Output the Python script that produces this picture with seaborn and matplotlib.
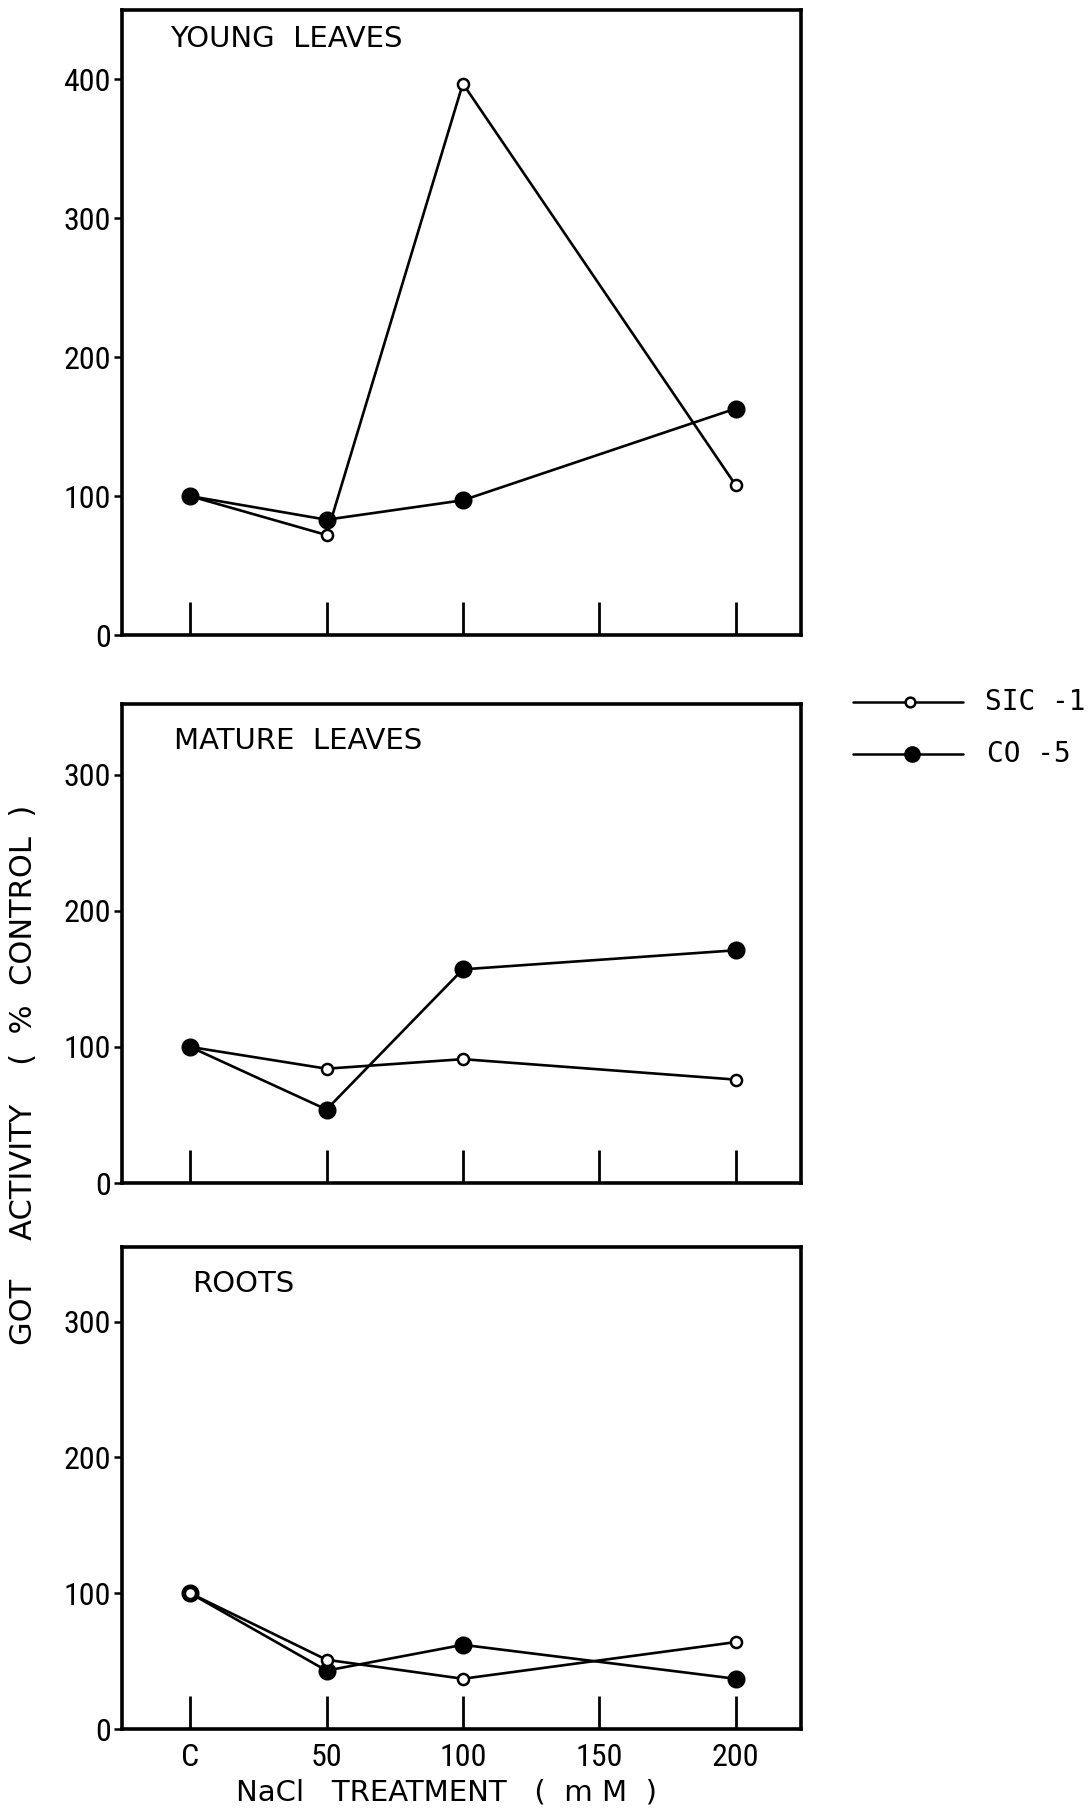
import matplotlib
matplotlib.use("Agg")
import matplotlib.pyplot as plt
import seaborn as sns

# NaCl treatment levels (mM); 0 stands for the control "C"
nacl = [0, 50, 100, 200]
tick_pos = [0, 50, 100, 150, 200]
tick_labels = ["C", "50", "100", "150", "200"]

# GOT activity as % of control
young_sic1 = [100, 72, 397, 108]
young_co5 = [100, 83, 97, 163]
mature_sic1 = [100, 84, 91, 76]
mature_co5 = [100, 54, 157, 171]
roots_sic1 = [100, 51, 37, 64]
roots_co5 = [100, 43, 62, 37]

panels = [
    ("YOUNG  LEAVES", young_sic1, young_co5, [0, 100, 200, 300, 400], 450, (0.07, 0.953), False),
    ("MATURE  LEAVES", mature_sic1, mature_co5, [0, 100, 200, 300], 352, (0.076, 0.923), False),
    ("ROOTS", roots_sic1, roots_co5, [0, 100, 200, 300], 355, (0.103, 0.923), True),
]

sns.set_style("white")
plt.rcParams["font.family"] = ["Roboto Condensed", "DejaVu Sans Condensed",
                               "Liberation Sans Narrow", "DejaVu Sans"]
for key in ("text.color", "axes.labelcolor", "xtick.color", "ytick.color"):
    plt.rcParams[key] = "black"

W, H = 1092, 1810
fig = plt.figure(figsize=(W / 100, H / 100), dpi=100)

boxes = [(10, 635), (704, 1183), (1247, 1729)]
left, right = 122, 801
tick_font = dict(fontsize=23, fontstretch="condensed")

for (title, sic, co, yt, ytop, tpos, last), (top, bot) in zip(panels, boxes):
    ax = fig.add_axes([left / W, 1 - bot / H, (right - left) / W, (bot - top) / H])
    series = [("SIC-1", sic, "white", 8, 1.8), ("CO-5", co, "black", 11, 2.0)]
    if title == "ROOTS":
        series = series[::-1]
    for name, vals, fc, ms, mew in series:
        sns.lineplot(x=nacl, y=vals, ax=ax, color="black", lw=1.9,
                     marker="o", markersize=ms, markerfacecolor=fc,
                     markeredgecolor="black", markeredgewidth=mew,
                     zorder=3)
    ax.set_xlim(-25, 224)
    ax.set_ylim(0, ytop)
    ax.set_yticks(yt)
    ax.set_yticklabels([str(v) for v in yt], **tick_font)
    ax.set_xticks(tick_pos)
    if last:
        ax.set_xticklabels(tick_labels, **tick_font)
    else:
        ax.set_xticklabels([])
    ax.tick_params(axis="x", direction="in", length=24, width=2, pad=10, bottom=True)
    ax.tick_params(axis="y", direction="out", length=6, width=1.8, pad=2, left=True)
    for s in ax.spines.values():
        s.set_visible(True)
        s.set_linewidth(2.6)
        s.set_color("black")
    ax.set_xlabel("")
    ax.set_ylabel("")
    ax.text(tpos[0], tpos[1], title, transform=ax.transAxes, fontsize=21,
            ha="left", va="center", family="DejaVu Sans")

# Shared axis titles
fig.text(24 / W, 1 - 1075 / H, "GOT    ACTIVITY    (  %  CONTROL  )",
         rotation=90, ha="center", va="center", fontsize=22,
         family="DejaVu Sans")
fig.text(446 / W, 1 - 1792 / H, "NaCl   TREATMENT   (  m M  )",
         ha="center", va="center", fontsize=21, family="DejaVu Sans")

# Legend drawn beside the middle panel
lax = fig.add_axes([850 / W, 1 - 775 / H, 116 / W, 90 / H])
lax.set_xlim(850, 966)
lax.set_ylim(775, 685)
lax.axis("off")
lax.plot([853, 963], [702, 702], color="black", lw=1.8)
lax.plot([910], [702], marker="o", ms=7, mfc="white", mec="black", mew=1.8)
lax.plot([853, 963], [754, 754], color="black", lw=1.8)
lax.plot([912], [754], marker="o", ms=11, mfc="black", mec="black")
fig.text(985 / W, 1 - 702 / H, "SIC -1", ha="left", va="center",
         fontsize=20, family="DejaVu Sans Mono")
fig.text(987 / W, 1 - 754 / H, "CO -5", ha="left", va="center",
         fontsize=20, family="DejaVu Sans Mono")

fig.savefig("out.png", dpi=100)
